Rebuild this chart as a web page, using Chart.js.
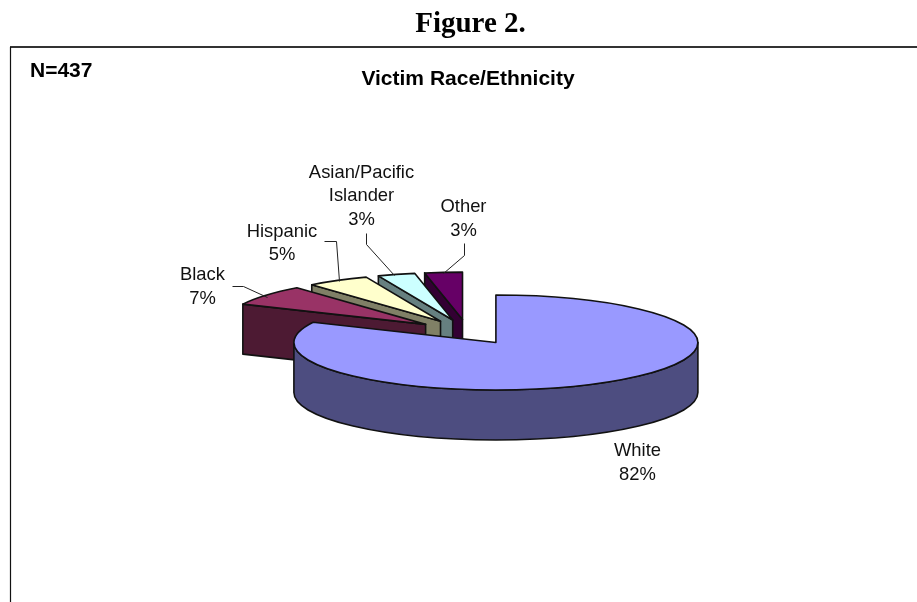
<!DOCTYPE html>
<html>
<head>
<meta charset="utf-8">
<style>
  html, body { margin: 0; padding: 0; background: #fff; width: 917px; height: 602px; overflow: hidden; }
  canvas { position: absolute; left: 0; top: 0; }
</style>
<script src="https://cdn.jsdelivr.net/npm/chart.js@4"></script>
</head>
<body>
<canvas id="pie" width="917" height="602"></canvas>
<script>
const categories = ['White', 'Black', 'Hispanic', 'Asian/Pacific Islander', 'Other'];
const shares = [82, 7, 5, 3, 3];
const topColors = ['#9999FF', '#993366', '#FFFFCC', '#CCFFFF', '#660066'];
const sideColors = ['#4D4D80', '#4D1A33', '#808066', '#668080', '#330033'];

// Pie tilt and height of the extruded wall
const TILT = 0.235;
const DEPTH = 50;
const EDGE = '#111';

// Label text lines and their centre/baseline placement, one entry per slice
const labelLines = [['White'], ['Black'], ['Hispanic'], ['Asian/Pacific', 'Islander'], ['Other']];
const labelAnchors = [[637.5, 456], [202.5, 280], [282, 236.5], [361.5, 177.5], [463.5, 212]];
const leaderLines = [
  null,
  [[232, 286], [243, 286], [267, 297]],
  [[324, 241], [336, 241], [339, 281]],
  [[366, 233], [366, 244], [394, 275]],
  [[464, 243], [464, 255], [443, 273]]
];

const pie3d = {
  id: 'pie3d',
  beforeDatasetsDraw(chart) {
    const ctx = chart.ctx;
    const arcs = chart.getDatasetMeta(0).data;
    for (let i = arcs.length - 1; i >= 0; i--) drawSlice(ctx, arcs[i], i);
    return false;
  },
  afterDraw(chart) {
    const ctx = chart.ctx;
    ctx.save();

    // Frame around the chart
    ctx.strokeStyle = '#333';
    ctx.lineWidth = 2;
    ctx.beginPath();
    ctx.moveTo(10, 47);
    ctx.lineTo(917, 47);
    ctx.stroke();
    ctx.strokeStyle = '#111';
    ctx.lineWidth = 1.2;
    ctx.beginPath();
    ctx.moveTo(10.5, 47);
    ctx.lineTo(10.5, 602);
    ctx.stroke();

    // Headings
    ctx.fillStyle = '#000';
    ctx.textAlign = 'center';
    ctx.font = 'bold 29px "Liberation Serif", serif';
    ctx.fillText('Figure 2.', 470.5, 32);
    ctx.font = 'bold 21px "Liberation Sans", Arial, sans-serif';
    ctx.fillText('Victim Race/Ethnicity', 468, 85);
    ctx.textAlign = 'left';
    ctx.fillText('N=437', 30, 77);

    // Leader lines
    ctx.strokeStyle = '#222';
    ctx.lineWidth = 1;
    leaderLines.forEach(line => {
      if (!line) return;
      ctx.beginPath();
      line.forEach(([x, y], n) => n ? ctx.lineTo(x + 0.5, y + 0.5) : ctx.moveTo(x + 0.5, y + 0.5));
      ctx.stroke();
    });

    // Category and percentage labels
    ctx.fillStyle = '#111';
    ctx.textAlign = 'center';
    ctx.font = '18.4px "Liberation Sans", Arial, sans-serif';
    labelLines.forEach((lines, i) => {
      const [x, y] = labelAnchors[i];
      [...lines, shares[i] + '%'].forEach((text, n) => ctx.fillText(text, x, y + n * 23.5));
    });
    ctx.restore();
  }
};

// Flatten the drawing context around the pie's centre line
function tilted(ctx, arc, fn) {
  ctx.save();
  ctx.translate(0, arc.y);
  ctx.scale(1, TILT);
  ctx.translate(0, -arc.y);
  fn();
  ctx.restore();
}

// Extrudes one slice from the angles and radius the arc element was laid out with
function drawSlice(ctx, arc, i) {
  const a = arc.startAngle, b = arc.endAngle, R = arc.outerRadius;
  const mid = (a + b) / 2;
  const shift = arc.options.offset / 4;
  const ox = arc.x + Math.cos(mid) * shift;
  const oy = arc.y + Math.sin(mid) * shift;
  const pt = (angle, r, d) => [
    ox + Math.cos(angle) * r,
    arc.y + (oy - arc.y + Math.sin(angle) * r) * TILT + d
  ];

  ctx.save();
  ctx.lineWidth = 1.6;
  ctx.lineJoin = 'round';
  ctx.strokeStyle = EDGE;
  ctx.fillStyle = sideColors[i];

  // Cut faces turned towards the viewer
  [[a, Math.cos(a) < -1e-6], [b, Math.cos(b) > 1e-6]].forEach(([angle, visible]) => {
    if (!visible) return;
    const quad = [pt(angle, 0, 0), pt(angle, R, 0), pt(angle, R, DEPTH), pt(angle, 0, DEPTH)];
    ctx.beginPath();
    quad.forEach(([x, y], n) => n ? ctx.lineTo(x, y) : ctx.moveTo(x, y));
    ctx.closePath();
    ctx.fill();
    ctx.stroke();
  });

  // Outer wall, on the front half of the rim only
  const lo = Math.max(a, 0), hi = Math.min(b, Math.PI);
  if (hi > lo) {
    const wall = d => tilted(ctx, arc, () => {
      ctx.translate(0, d / TILT);
      ctx.arc(ox, oy, R, d ? hi : lo, d ? lo : hi, !!d);
    });
    ctx.beginPath();
    wall(0);
    wall(DEPTH);
    ctx.closePath();
    ctx.fill();
    ctx.stroke();
  }

  // Top surface, with an even pen width despite the flattening
  ctx.beginPath();
  tilted(ctx, arc, () => {
    ctx.moveTo(ox, oy);
    ctx.arc(ox, oy, R, a, b);
    ctx.closePath();
  });
  ctx.fillStyle = arc.options.backgroundColor;
  ctx.fill();
  ctx.stroke();
  ctx.restore();
}

new Chart(document.getElementById('pie'), {
  type: 'pie',
  data: {
    labels: categories,
    datasets: [{
      data: shares,
      backgroundColor: topColors,
      borderWidth: 0,
      offset: 212
    }]
  },
  options: {
    responsive: false,
    animation: false,
    radius: 202,
    layout: { padding: { left: 18, top: 62 } },
    plugins: { legend: { display: false }, tooltip: { enabled: false }, title: { display: false } }
  },
  plugins: [pie3d]
});
</script>
</body>
</html>
